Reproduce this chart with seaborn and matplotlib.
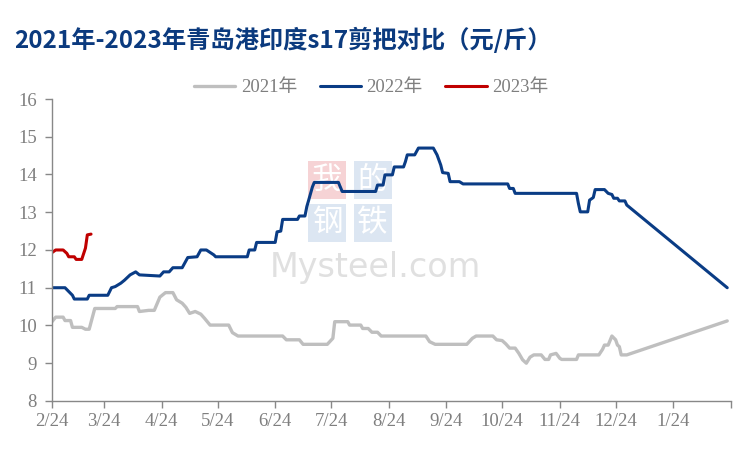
import matplotlib
matplotlib.use("Agg")
import matplotlib.pyplot as plt
import matplotlib.dates as mdates
from matplotlib.ticker import FuncFormatter
import pandas as pd
import seaborn as sns

sns.set_theme(style="white")
plt.rcParams["font.family"] = ["Liberation Serif", "Noto Sans CJK SC"]

# day offsets from 2/24, values in 元/斤
BASE = pd.Timestamp("2022-02-24")

days_2021 = [0, 2, 6, 7, 10, 11, 16, 18, 20, 23, 34, 35, 46, 47, 52, 55, 58, 61, 65, 67,
             70, 72, 74, 77, 80, 82, 85, 95, 97, 100, 124, 126, 133, 135, 148, 151, 152,
             159, 160, 166, 167, 170, 172, 175, 177, 201, 203, 206, 223, 226, 228, 237,
             239, 242, 244, 246, 249, 251, 253, 255, 257, 259, 263, 265, 267, 268, 271,
             273, 274, 282, 283, 294, 296, 297, 299, 301, 303, 304, 305, 306, 309, 363]
vals_2021 = [10.10, 10.22, 10.22, 10.13, 10.13, 9.95, 9.95, 9.90, 9.90, 10.45, 10.45, 10.50,
             10.50, 10.37, 10.40, 10.40, 10.75, 10.87, 10.87, 10.68, 10.59, 10.48, 10.32,
             10.37, 10.30, 10.19, 10.01, 10.01, 9.81, 9.72, 9.72, 9.62, 9.62, 9.50, 9.50,
             9.66, 10.10, 10.10, 10.01, 10.01, 9.92, 9.92, 9.82, 9.82, 9.72, 9.72, 9.57,
             9.50, 9.50, 9.66, 9.72, 9.72, 9.62, 9.60, 9.51, 9.40, 9.40, 9.26, 9.09, 9.00,
             9.16, 9.22, 9.22, 9.10, 9.10, 9.22, 9.26, 9.13, 9.10, 9.10, 9.22, 9.22, 9.37,
             9.48, 9.48, 9.72, 9.62, 9.48, 9.44, 9.22, 9.22, 10.12]

days_2022 = [0, 7, 9, 11, 12, 19, 20, 30, 32, 34, 37, 39, 42, 45, 47, 58, 60, 63, 65, 70,
             73, 78, 80, 83, 87, 88, 105, 106, 109, 110, 120, 121, 123, 124, 132, 133, 136,
             137, 138, 140, 141, 154, 156, 174, 175, 178, 179, 183, 184, 189, 190, 191, 195,
             197, 205, 207, 209, 210, 213, 214, 219, 221, 245, 246, 248, 249, 282, 283, 284,
             288, 289, 291, 292, 297, 299, 301, 302, 304, 305, 308, 309, 363]
vals_2022 = [11.0, 11.0, 10.9, 10.8, 10.7, 10.7, 10.8, 10.8, 11.0, 11.03, 11.12, 11.2, 11.34,
             11.42, 11.34, 11.31, 11.42, 11.42, 11.53, 11.53, 11.8, 11.82, 12.0, 12.0, 11.87,
             11.82, 11.82, 12.0, 12.0, 12.2, 12.2, 12.48, 12.5, 12.81, 12.81, 12.9, 12.9,
             13.15, 13.32, 13.67, 13.79, 13.79, 13.55, 13.55, 13.72, 13.72, 13.99, 13.99,
             14.2, 14.2, 14.34, 14.52, 14.52, 14.7, 14.7, 14.52, 14.25, 14.05, 14.03, 13.81,
             13.81, 13.75, 13.75, 13.63, 13.63, 13.5, 13.5, 13.23, 13.01, 13.01, 13.32,
             13.39, 13.6, 13.6, 13.5, 13.47, 13.37, 13.37, 13.3, 13.3, 13.19, 11.0]

days_2023 = [0, 2, 6, 8, 9, 12, 13, 16, 18, 19, 21]
vals_2023 = [11.93, 12.0, 12.0, 11.91, 11.82, 11.82, 11.75, 11.75, 12.05, 12.4, 12.42]

series = [
    ("2021年", days_2021, vals_2021, "#BFBFBF", 2.4),
    ("2022年", days_2022, vals_2022, "#0A3C85", 2.2),
    ("2023年", days_2023, vals_2023, "#C00000", 2.2),
]

title = "2021年-2023年青岛港印度s17剪把对比（元/斤）"
grey = "#7F7F7F"

fig = plt.figure(figsize=(7.5, 4.5), dpi=100)
ax = fig.add_axes([0.0693, 0.109, 0.9053, 0.671])
ax.set_zorder(2)

# faint watermark behind the plot
for txt, x, y, c in [("我", 0.436, 0.60, "#F6D3D5"), ("的", 0.497, 0.60, "#DCE6F2"),
                     ("钢", 0.436, 0.505, "#DCE6F2"), ("铁", 0.497, 0.505, "#DCE6F2")]:
    fig.text(x, y, txt, ha="center", va="center", fontsize=22, color="white",
             family=["Noto Sans CJK SC"], zorder=0,
             bbox=dict(boxstyle="square,pad=0.12", fc=c, ec="none"))
fig.text(0.5, 0.405, "Mysteel.com", ha="center", va="center", fontsize=24,
         color="#E0E0E0", family=["DejaVu Sans"], zorder=0)

for name, d, v, c, lw in series:
    dates = BASE + pd.to_timedelta(d, unit="D")
    sns.lineplot(x=dates, y=v, ax=ax, color=c, lw=lw, label=name,
                 estimator=None, sort=False)

ax.patch.set_alpha(0)
ax.set_ylim(8, 16)
ax.set_yticks(range(8, 17))
ax.set_xlim(BASE, BASE + pd.Timedelta(days=365))
ticks = [BASE + pd.DateOffset(months=i) for i in range(13)]
ax.set_xticks(ticks)
ax.xaxis.set_major_formatter(FuncFormatter(
    lambda x, pos: "" if pos == 12 else f"{mdates.num2date(x).month}/24"))
ax.set_xlabel("")
ax.set_ylabel("")

for s in ["top", "right"]:
    ax.spines[s].set_visible(False)
for s in ["left", "bottom"]:
    ax.spines[s].set_color("#888888")
    ax.spines[s].set_linewidth(1.0)
ax.tick_params(axis="both", direction="out", length=5, width=1, color="#888888",
               labelcolor=grey, labelsize=13.5, left=True, bottom=True)
ax.tick_params(axis="y", pad=6)
ax.tick_params(axis="x", pad=4)

leg = ax.legend(loc="center", bbox_to_anchor=(0.495, 0.805), bbox_transform=fig.transFigure,
                ncol=3, frameon=False, fontsize=13.5, handlelength=2.2, columnspacing=1.2,
                handletextpad=0.3)
for t in leg.get_texts():
    t.set_color(grey)

fig.text(0.019, 0.911, title, ha="left", va="center", fontsize=17.5, fontweight="bold",
         color="#0B3A7E", family=["Noto Sans CJK SC", "DejaVu Sans"])

fig.savefig("out.png", dpi=100)
